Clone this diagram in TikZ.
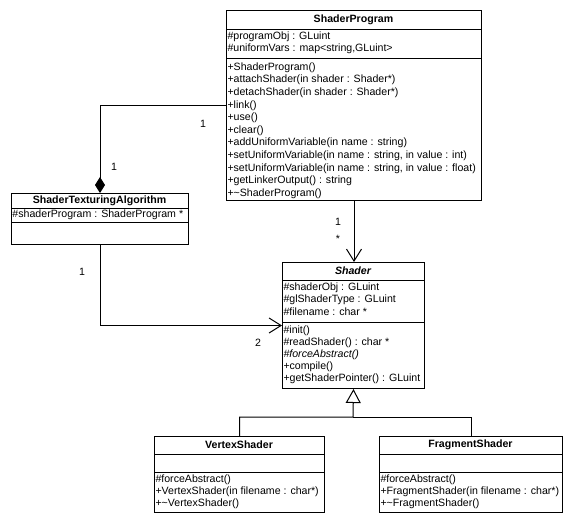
\documentclass[tikz,border=0pt]{standalone}
\usepackage{fontspec}
\setmainfont{Liberation Sans}
\usetikzlibrary{arrows.meta}
\begin{document}
\begin{tikzpicture}[x=1pt,y=-1pt,
  font=\fontsize{10.6pt}{12pt}\selectfont,
  line width=1pt,
  classbox/.style={draw=black, fill=white, rectangle, inner sep=0pt, anchor=north west},
  ttl/.style={inner sep=0pt, font=\fontsize{10.6pt}{12pt}\selectfont\bfseries},
  row/.style={inner sep=0pt, anchor=west},
  mult/.style={inner sep=0pt},
  assoc/.style={-{Straight Barb[length=12pt,width=15pt,line width=1pt]}},
  compo/.style={{Diamond[length=16pt,width=10pt]}-},
  gener/.style={-{Triangle[open,length=14pt,width=15pt,line width=1pt,fill=white]}}
]
\useasboundingbox (0,0) rectangle (575,525);
\fill[white] (0,0) rectangle (575,525);

% ---------- ShaderProgram ----------
\node[classbox, minimum width=255pt, minimum height=190pt] (sp) at (226,10) {};
\draw (sp.west |- 0,29) -- (sp.east |- 0,29);
\draw (sp.west |- 0,58) -- (sp.east |- 0,58);
\node[ttl] (sp-t) at (353.5,19.5) {ShaderProgram};
\node[row] (sp-a1) at (227,37) {\#programObj : GLuint};
\node[row] (sp-a2) at (227,49) {\#uniformVars : map<string,GLuint>};
\node[row] (sp-m1) at (227,67.5) {+ShaderProgram()};
\node[row] (sp-m2) at (227,80.1) {+attachShader(in shader : Shader*)};
\node[row] (sp-m3) at (227,92.7) {+detachShader(in shader : Shader*)};
\node[row] (sp-m4) at (227,105.3) {+link()};
\node[row] (sp-m5) at (227,117.9) {+use()};
\node[row] (sp-m6) at (227,130.5) {+clear()};
\node[row] (sp-m7) at (227,143.1) {+addUniformVariable(in name : string)};
\node[row] (sp-m8) at (227,155.7) {+setUniformVariable(in name : string, in value : int)};
\node[row] (sp-m9) at (227,168.3) {+setUniformVariable(in name : string, in value : float)};
\node[row] (sp-m10) at (227,180.9) {+getLinkerOutput() : string};
\node[row] (sp-m11) at (227,193.5) {+\textasciitilde ShaderProgram()};

% ---------- ShaderTexturingAlgorithm ----------
\node[classbox, minimum width=177pt, minimum height=51pt] (sta) at (11,193) {};
\draw (sta.west |- 0,208) -- (sta.east |- 0,208);
\draw (sta.west |- 0,222) -- (sta.east |- 0,222);
\node[ttl] (sta-t) at (99.5,200.5) {ShaderTexturingAlgorithm};
\node[row] (sta-a1) at (12,215) {\#shaderProgram : ShaderProgram *};

% ---------- Shader ----------
\node[classbox, minimum width=142pt, minimum height=126pt] (sh) at (282,262) {};
\draw (sh.west |- 0,280) -- (sh.east |- 0,280);
\draw (sh.west |- 0,322) -- (sh.east |- 0,322);
\node[ttl, font=\fontsize{10.6pt}{12pt}\selectfont\bfseries\itshape] (sh-t) at (353,271) {Shader};
\node[row] (sh-a1) at (283,288) {\#shaderObj : GLuint};
\node[row] (sh-a2) at (283,300) {\#glShaderType : GLuint};
\node[row] (sh-a3) at (283,312) {\#filename : char *};
\node[row] (sh-m1) at (283,331) {\#init()};
\node[row] (sh-m2) at (283,343) {\#readShader() : char *};
\node[row, font=\fontsize{10.6pt}{12pt}\selectfont\itshape] (sh-m3) at (283,355) {\#forceAbstract()};
\node[row] (sh-m4) at (283,367) {+compile()};
\node[row] (sh-m5) at (283,379) {+getShaderPointer() : GLuint};

% ---------- VertexShader ----------
\node[classbox, minimum width=170pt, minimum height=76pt] (vs) at (154,436) {};
\draw (vs.west |- 0,454) -- (vs.east |- 0,454);
\draw (vs.west |- 0,472) -- (vs.east |- 0,472);
\node[ttl] (vs-t) at (239,445) {VertexShader};
\node[row] (vs-m1) at (155,480) {\#forceAbstract()};
\node[row] (vs-m2) at (155,492) {+VertexShader(in filename : char*)};
\node[row] (vs-m3) at (155,504) {+\textasciitilde VertexShader()};

% ---------- FragmentShader ----------
\node[classbox, minimum width=183pt, minimum height=76pt] (fs) at (379,436) {};
\draw (fs.west |- 0,454) -- (fs.east |- 0,454);
\draw (fs.west |- 0,472) -- (fs.east |- 0,472);
\node[ttl] (fs-t) at (470.5,445) {FragmentShader};
\node[row] (fs-m1) at (380,480) {\#forceAbstract()};
\node[row] (fs-m2) at (380,492) {+FragmentShader(in filename : char*)};
\node[row] (fs-m3) at (380,504) {+\textasciitilde FragmentShader()};

% ---------- connectors ----------
\draw[compo] (sta.north) |- (sp.west);
\node[mult] (l1) at (203,124) {1};
\node[mult] (l2) at (114,167) {1};

\draw[assoc] (sp.south) -- (sh.north -| sp.south);
\node[mult] (l3) at (338,222) {1};
\node[mult] (l4) at (338,239) {*};

\draw[assoc] (sta.south) |- (sh.west);
\node[mult] (l5) at (82,272) {1};
\node[mult] (l6) at (258,343) {2};

\coordinate (junc) at (353,417);
\draw[gener] (vs.north) |- (junc) -- (sh.south);
\draw (fs.north) |- (junc);
\end{tikzpicture}
\end{document}
